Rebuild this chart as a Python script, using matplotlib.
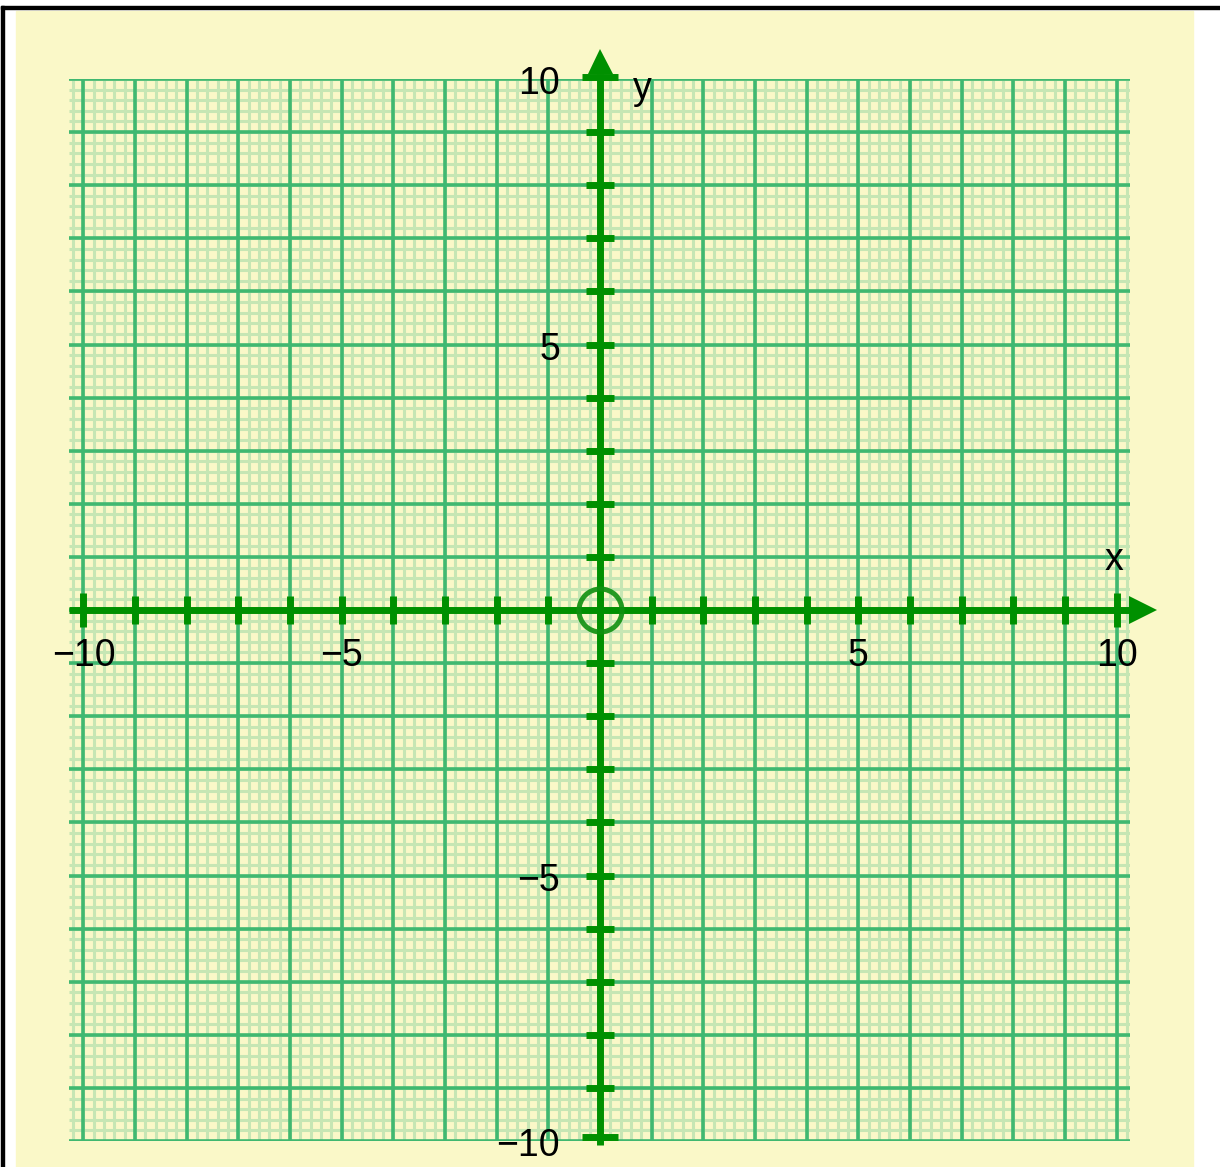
import numpy as np
import matplotlib.pyplot as plt
from matplotlib.patches import Rectangle

# axis values
x_ticks = [-9, -8, -7, -6, -5, -4, -3, -2, -1, 1, 2, 3, 4, 5, 6, 7, 8, 9]
y_ticks = [-9, -8, -7, -6, -5, -4, -3, -2, -1, 1, 2, 3, 4, 5, 6, 7, 8, 9]
end_ticks = [-10, 10]
x_labels = ['\u221210', '\u22125', '5', '10']
x_label_pos = [-10, -5, 5, 10]
y_labels = ['10', '5', '\u22125', '\u221210']
y_label_pos = [10, 5, -5, -10]

yellow = '#faf8c8'
minor_c = '#c6e6b4'
major_c = '#40b870'
axis_c = '#009000'

W, H = 1220, 1167
fig = plt.figure(figsize=(W / 100, H / 100), dpi=100)
fig.patch.set_facecolor('white')

def px(x0, y0, w, h):
    # pixel box (from top-left) -> figure fraction
    return (x0 / W, 1 - (y0 + h) / H), w / W, h / H

xy, w, h = px(16, 11, 1177, 1156)
fig.add_artist(Rectangle(xy, w, h, transform=fig.transFigure, color=yellow, zorder=0))
xy, w, h = px(1, 6, 1219, 3)
fig.add_artist(Rectangle(xy, w, h, transform=fig.transFigure, color='black', zorder=0))
xy, w, h = px(1, 6, 3, 1161)
fig.add_artist(Rectangle(xy, w, h, transform=fig.transFigure, color='black', zorder=0))

ax = fig.add_axes([69 / W, 1 - 1141 / H, 1061 / W, 1062 / H])
ax.set_facecolor('none')
xmin, xmax, ymin, ymax = -10.28, 10.26, -10, 10
ax.set_xlim(xmin, xmax)
ax.set_ylim(ymin, ymax)
ax.axis('off')

# graph paper
minor_x = np.arange(-10.2, 10.3, 0.2)
minor_y = np.arange(-10, 10.1, 0.2)
major = np.arange(-10, 11, 1)
ax.vlines(minor_x, ymin, ymax, color=minor_c, lw=2.2, zorder=1)
ax.hlines(minor_y, xmin, xmax, color=minor_c, lw=2.2, zorder=1)
ax.vlines(major, ymin, ymax, color=major_c, lw=2.6, zorder=2)
ax.hlines(major, xmin, xmax, color=major_c, lw=2.6, zorder=2)

# axes lines
ax.plot([xmin, 10.3], [0, 0], color=axis_c, lw=5, solid_capstyle='butt', clip_on=False, zorder=5)
ax.plot([0, 0], [-10.07, 10.1], color=axis_c, lw=5, solid_capstyle='butt', clip_on=False, zorder=5)
ax.plot([10.52], [0], marker='>', ms=19.5, color=axis_c, mew=0, clip_on=False, zorder=6)
ax.plot([0], [10.33], marker='^', ms=18, color=axis_c, mew=0, clip_on=False, zorder=6)

# ticks
ax.plot(x_ticks, [0] * len(x_ticks), ls='none', marker='|', ms=19.5, mew=5, color=axis_c, clip_on=False, zorder=6)
ax.plot(end_ticks, [0, 0], ls='none', marker='|', ms=25, mew=5, color=axis_c, clip_on=False, zorder=6)
ax.plot([0] * len(y_ticks), y_ticks, ls='none', marker='_', ms=20, mew=5, color=axis_c, clip_on=False, zorder=6)
ax.plot([0, 0], [-9.93, 10.03], ls='none', marker='_', ms=26, mew=5, color=axis_c, clip_on=False, zorder=6)

# origin circle
ax.plot([0], [0], marker='o', ms=31, mfc='none', mec='#109010', mew=3.6, alpha=0.9, clip_on=False, zorder=7)

font = dict(family='Liberation Sans', fontsize=27, color='black')
for lab, p in zip(x_labels, x_label_pos):
    ax.text(p, -0.87, lab, ha='center', va='center', clip_on=False, **font)
for lab, p in zip(y_labels, y_label_pos):
    ax.text(-0.77, p - 0.1, lab, ha='right', va='center', clip_on=False, **font)
ax.text(0.81, 9.82, 'y', ha='center', va='center', clip_on=False, **font)
ax.text(9.95, 0.95, 'x', ha='center', va='center', clip_on=False, **font)

fig.savefig('out.png', dpi=100, facecolor='white')
